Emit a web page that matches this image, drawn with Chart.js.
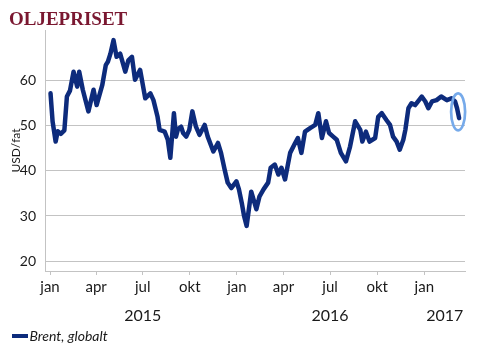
<!DOCTYPE html>
<html>
<head>
<meta charset="utf-8">
<script src="https://cdn.jsdelivr.net/npm/chart.js@4.4.1/dist/chart.umd.min.js"></script>
<style>
  html, body { margin: 0; padding: 0; background: #ffffff; }
  #wrap { position: relative; width: 488px; height: 358px; }
  canvas { display: block; }
</style>
</head>
<body>
<div id="wrap"><canvas id="c" width="488" height="358"></canvas></div>
<script>
// ---- data ----
const seriesLabel = 'Brent, globalt';
const priceDates = [
  '2015-01-02','2015-01-06','2015-01-12','2015-01-16','2015-01-22','2015-01-29','2015-02-03','2015-02-09',
  '2015-02-16','2015-02-23','2015-02-27','2015-03-06','2015-03-17','2015-03-27','2015-04-02','2015-04-13',
  '2015-04-20','2015-04-24','2015-04-29','2015-05-05','2015-05-11','2015-05-18','2015-05-28','2015-06-03',
  '2015-06-10','2015-06-16','2015-06-26','2015-07-06','2015-07-16','2015-07-22','2015-07-30','2015-08-03',
  '2015-08-13','2015-08-19','2015-08-24','2015-08-31','2015-09-04','2015-09-08','2015-09-14','2015-09-18',
  '2015-09-24','2015-09-30','2015-10-06','2015-10-13','2015-10-20','2015-10-30','2015-11-05','2015-11-16',
  '2015-11-25','2015-12-01','2015-12-08','2015-12-14','2015-12-21','2015-12-31','2016-01-05','2016-01-11',
  '2016-01-15','2016-01-20','2016-01-29','2016-02-08','2016-02-14','2016-02-22','2016-03-02','2016-03-07',
  '2016-03-15','2016-03-22','2016-03-28','2016-04-04','2016-04-14','2016-04-22','2016-04-29','2016-05-06',
  '2016-05-13','2016-05-23','2016-06-02','2016-06-08','2016-06-15','2016-06-23','2016-06-29','2016-07-07',
  '2016-07-14','2016-07-22','2016-08-01','2016-08-09','2016-08-19','2016-08-29','2016-09-02','2016-09-09',
  '2016-09-16','2016-09-27','2016-10-03','2016-10-10','2016-10-19','2016-10-26','2016-11-01','2016-11-08',
  '2016-11-14','2016-11-21','2016-11-25','2016-12-01','2016-12-07','2016-12-14','2016-12-27','2017-01-03',
  '2017-01-09','2017-01-16','2017-01-25','2017-02-03','2017-02-14','2017-02-23','2017-03-02','2017-03-06',
  '2017-03-10'
];
const brentPrices = [
  57.2, 51.0, 46.5, 48.8, 48.2, 49.0, 56.5, 57.8,
  62.0, 58.7, 62.0, 58.0, 53.2, 58.0, 54.6, 59.0,
  63.5, 64.2, 66.0, 69.0, 65.3, 66.0, 62.0, 64.5,
  65.3, 60.2, 62.4, 56.1, 57.2, 55.7, 52.0, 49.1,
  48.7, 46.9, 42.9, 52.8, 47.6, 49.3, 49.8, 48.4,
  47.6, 49.1, 53.2, 49.8, 48.0, 50.2, 47.6, 44.3,
  46.2, 44.0, 40.3, 37.4, 36.2, 37.7, 35.9, 32.6,
  30.0, 27.8, 35.4, 31.5, 34.3, 35.9, 37.4, 40.7,
  41.4, 39.2, 40.7, 38.1, 44.0, 45.8, 47.3, 44.0,
  48.7, 49.5, 50.2, 52.8, 47.3, 51.0, 48.4, 47.6,
  46.9, 44.0, 42.1, 45.4, 51.0, 49.1, 46.5, 48.7,
  46.5, 47.3, 52.0, 52.8, 51.3, 50.2, 47.6, 46.5,
  44.7, 46.9, 49.1, 53.9, 55.0, 54.6, 56.5, 55.4,
  53.9, 55.4, 55.7, 56.5, 55.7, 56.1, 55.4, 53.9,
  51.7
];
const monthTickDates = ['2015-01-01','2015-04-01','2015-07-01','2015-10-01','2016-01-01','2016-04-01','2016-07-01','2016-10-01','2017-01-01'];
const monthTickLabels = ['jan','apr','jul','okt','jan','apr','jul','okt','jan'];
const yearLabelDates = ['2015-07-01','2016-07-01','2017-02-10'];
const yearLabels = ['2015','2016','2017'];
const yTickValues = [20, 30, 40, 50, 60];
const titleText = 'OLJEPRISET';
const yAxisTitle = 'USD/fat';

// ---- helpers ----
const ORIGIN = Date.UTC(2015, 0, 1);
function dayOf(s) {
  const p = s.split('-').map(Number);
  return (Date.UTC(p[0], p[1] - 1, p[2]) - ORIGIN) / 86400000;
}
const points = priceDates.map((d, i) => ({ x: dayOf(d), y: brentPrices[i] }));
const monthTicks = monthTickDates.map(dayOf);
const yearTicks = yearLabelDates.map(dayOf);

const LINE_COLOR = '#0d2b7c';
const GRID_COLOR = '#c3c3c3';
const TEXT_COLOR = '#1a1a1a';

const decorPlugin = {
  id: 'decor',
  afterDraw(chart) {
    const ctx = chart.ctx;
    const xs = chart.scales.x, ys = chart.scales.y;
    ctx.save();
    // title
    ctx.fillStyle = '#7a1730';
    ctx.font = 'bold 19px "Liberation Serif", "Times New Roman", serif';
    ctx.textBaseline = 'alphabetic';
    ctx.textAlign = 'left';
    ctx.fillText(titleText, 9, 25);
    // legend
    ctx.strokeStyle = LINE_COLOR;
    ctx.lineWidth = 4;
    ctx.beginPath();
    ctx.moveTo(12, 336);
    ctx.lineTo(28, 336);
    ctx.stroke();
    ctx.fillStyle = TEXT_COLOR;
    ctx.font = 'italic 14px Lato, "Open Sans", sans-serif';
    ctx.textBaseline = 'middle';
    ctx.fillText(chart.data.datasets[0].label, 29.5, 336);
    // highlight ellipse around the last move
    const n = points.length;
    const last3 = points.slice(n - 3).map(p => p.y);
    const cx = xs.getPixelForValue(points[n - 1].x) - 1;
    const cy = ys.getPixelForValue((Math.max(...last3) + Math.min(...last3)) / 2) + 2;
    ctx.strokeStyle = '#76aaea';
    ctx.lineWidth = 2.7;
    ctx.beginPath();
    ctx.ellipse(cx, cy, 7, 18.5, 0, 0, Math.PI * 2);
    ctx.stroke();
    ctx.restore();
  }
};

new Chart(document.getElementById('c'), {
  type: 'line',
  data: {
    datasets: [{
      label: seriesLabel,
      data: points,
      borderColor: LINE_COLOR,
      borderWidth: 4.5,
      pointRadius: 0,
      tension: 0,
      borderJoinStyle: 'round',
      borderCapStyle: 'round',
      fill: false
    }]
  },
  options: {
    responsive: false,
    animation: false,
    devicePixelRatio: 1,
    layout: { padding: { top: 30, left: 0, right: 23, bottom: 37 } },
    plugins: { legend: { display: false }, tooltip: { enabled: false }, title: { display: false } },
    scales: {
      x: {
        type: 'linear',
        position: 'bottom',
        weight: 0,
        min: -9.8,
        max: 810.5,
        afterBuildTicks: s => { s.ticks = monthTicks.map(v => ({ value: v })); },
        afterFit: s => { s.height = 26; s.paddingLeft = 0; s.paddingRight = 0; },
        ticks: {
          autoSkip: false, maxRotation: 0, minRotation: 0, padding: 3,
          color: TEXT_COLOR,
          font: { family: 'Lato, "Open Sans", sans-serif', size: 15 },
          callback: (v) => { const i = monthTicks.indexOf(v); return i >= 0 ? monthTickLabels[i] : ''; }
        },
        grid: { drawOnChartArea: false, drawTicks: true, tickLength: 4, color: GRID_COLOR, tickColor: GRID_COLOR },
        border: { display: true, color: GRID_COLOR, width: 1 }
      },
      x2: {
        type: 'linear',
        position: 'bottom',
        weight: 1,
        min: -9.8,
        max: 810.5,
        afterBuildTicks: s => { s.ticks = yearTicks.map(v => ({ value: v })); },
        afterFit: s => { s.height = 24; s.paddingLeft = 0; s.paddingRight = 0; },
        ticks: {
          autoSkip: false, maxRotation: 0, minRotation: 0, padding: 1,
          color: TEXT_COLOR,
          font: { family: 'Lato, "Open Sans", sans-serif', size: 16 },
          callback: (v) => { const i = yearTicks.indexOf(v); return i >= 0 ? yearLabels[i] : ''; }
        },
        grid: { display: false },
        border: { display: false }
      },
      y: {
        type: 'linear',
        min: 17.8,
        max: 71.25,
        afterBuildTicks: s => { s.ticks = yTickValues.map(v => ({ value: v })); },
        afterFit: s => { s.width = 45; },
        ticks: {
          padding: 9,
          color: TEXT_COLOR,
          font: { family: 'Lato, "Open Sans", sans-serif', size: 14 }
        },
        grid: { drawTicks: false, color: GRID_COLOR, lineWidth: 1 },
        border: { display: true, color: GRID_COLOR, width: 1 },
        title: {
          display: true, text: yAxisTitle, color: TEXT_COLOR,
          font: { family: 'Lato, "Open Sans", sans-serif', size: 12 },
          padding: { top: 9, bottom: 0 }
        }
      }
    }
  },
  plugins: [decorPlugin]
});
</script>
</body>
</html>
